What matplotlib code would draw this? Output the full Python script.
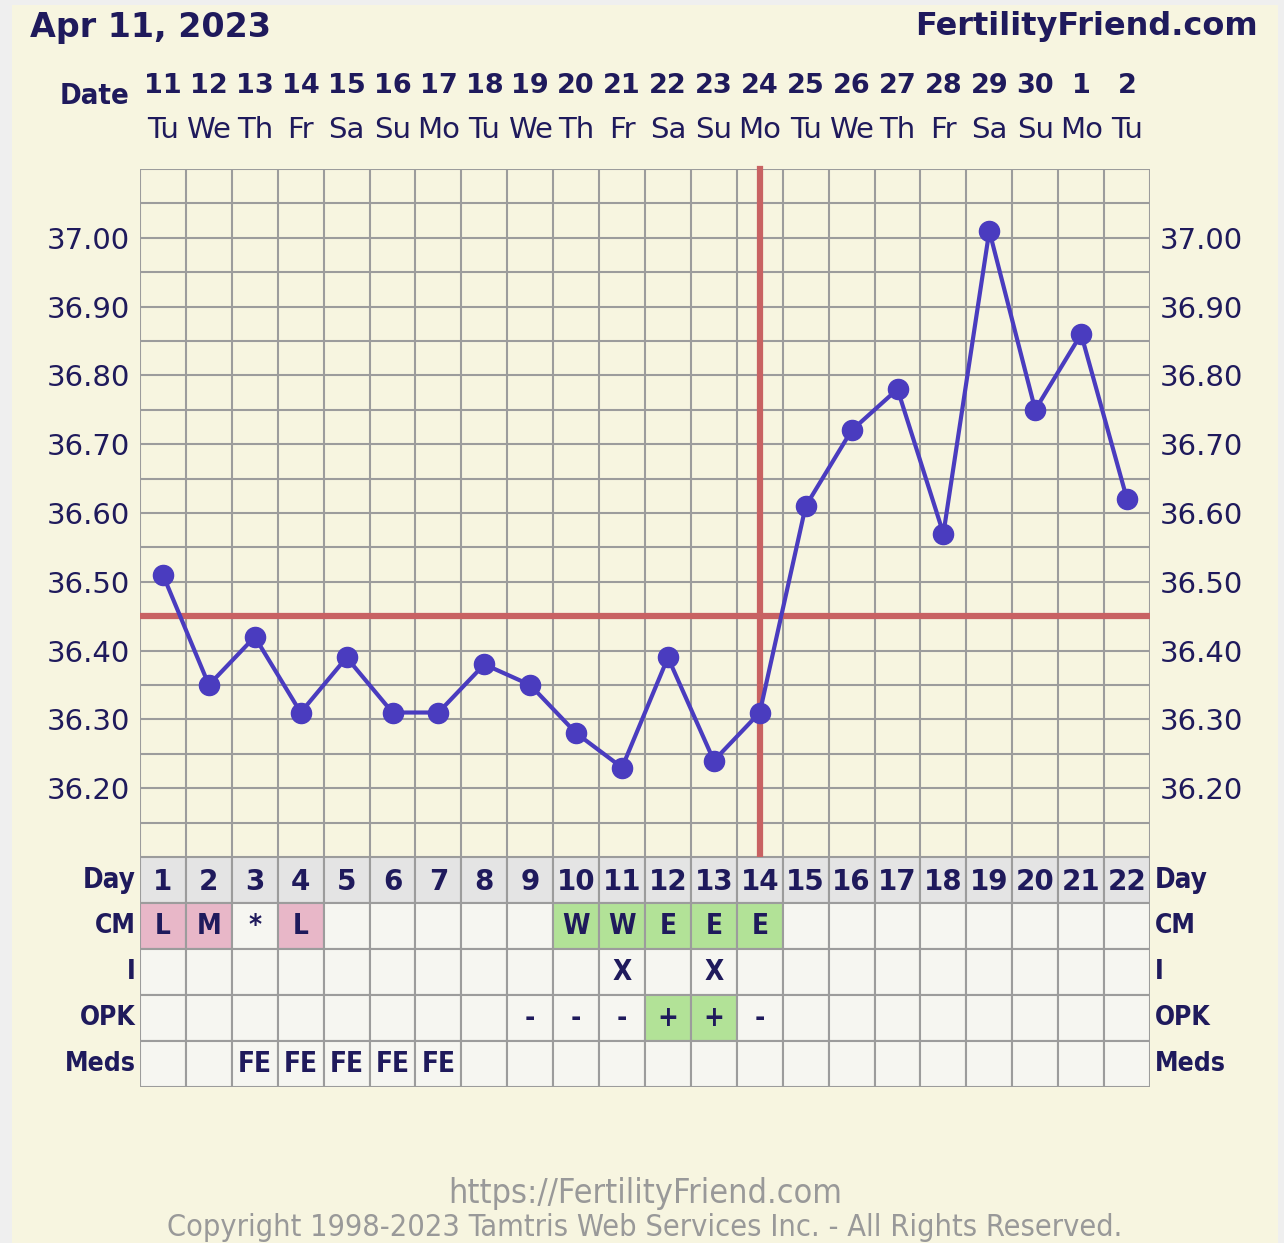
import matplotlib.pyplot as plt
import matplotlib.transforms as mtransforms
from matplotlib.patches import Rectangle

# Data
days = list(range(1, 23))
dates = ["11", "12", "13", "14", "15", "16", "17", "18", "19", "20", "21",
         "22", "23", "24", "25", "26", "27", "28", "29", "30", "1", "2"]
weekdays = ["Tu", "We", "Th", "Fr", "Sa", "Su", "Mo", "Tu", "We", "Th", "Fr",
            "Sa", "Su", "Mo", "Tu", "We", "Th", "Fr", "Sa", "Su", "Mo", "Tu"]
temps = [36.51, 36.35, 36.42, 36.31, 36.39, 36.31, 36.31, 36.38, 36.35, 36.28, 36.23,
         36.39, 36.24, 36.31, 36.61, 36.72, 36.78, 36.57, 37.01, 36.75, 36.86, 36.62]
coverline = 36.45
ovulation_day = 14

cm = {1: "L", 2: "M", 3: "*", 4: "L", 10: "W", 11: "W", 12: "E", 13: "E", 14: "E"}
cm_colors = {1: "#e8b7c8", 2: "#e8b7c8", 4: "#e8b7c8",
             10: "#b2e297", 11: "#b2e297", 12: "#b2e297", 13: "#b2e297", 14: "#b2e297"}
intercourse = {11: "X", 13: "X"}
opk = {9: "-", 10: "-", 11: "-", 12: "+", 13: "+", 14: "-"}
opk_colors = {12: "#b2e297", 13: "#b2e297"}
meds = {3: "FE", 4: "FE", 5: "FE", 6: "FE", 7: "FE"}
row_labels = ["Day", "CM", "I", "OPK", "Meds"]

# Colours
cream = "#f7f5e0"
navy = "#1f1a5c"
gridc = "#9c9c9c"
linec = "#4a3cbf"
redc = "#c86262"

W, H = 1284, 1243
fig = plt.figure(figsize=(W / 100, H / 100), dpi=100)
fig.patch.set_facecolor("#efefef")
fig.patches.append(Rectangle((12 / W, 0), 1266 / W, 1 - 5 / H, transform=fig.transFigure,
                             facecolor=cream, edgecolor="none", zorder=-5))

bold_cond = dict(family="DejaVu Sans", weight="bold", stretch="condensed")

# Temperature chart
ax = fig.add_axes([140 / W, 1 - 857 / H, 1010 / W, 688 / H])
ax.set_facecolor(cream)
ax.set_xlim(0.5, 22.5)
ax.set_ylim(36.10, 37.10)
ax.set_xticks([d + 0.5 for d in range(0, 23)])
ax.set_xticklabels([])
ax.set_yticks([36.10 + 0.05 * i for i in range(21)], minor=True)
ax.set_yticks([36.20 + 0.1 * i for i in range(9)])
ax.set_yticklabels(["%.2f" % (36.20 + 0.1 * i) for i in range(9)])
ax.tick_params(axis="both", which="both", length=0)
ax.tick_params(axis="y", labelsize=21, labelcolor=navy, pad=7, labelright=True)
ax.grid(True, which="both", color=gridc, linewidth=1.5)
ax.set_axisbelow(True)
for s in ax.spines.values():
    s.set_visible(False)

ax.axhline(coverline, color=redc, linewidth=4.5, zorder=3)
ax.plot([ovulation_day, ovulation_day], [36.10, 37.10], color=redc, linewidth=4.5,
        zorder=3, clip_on=False)
ax.plot(days, temps, color=linec, linewidth=3, marker="o", markersize=14.5, zorder=4)

# Date header
trans = mtransforms.blended_transform_factory(ax.transData, ax.transAxes)
for d, num, wd in zip(days, dates, weekdays):
    ax.text(d, (857 - 86) / 688, num, transform=trans, ha="center", va="center",
            fontsize=19.5, fontweight="bold", color=navy)
    ax.text(d, (857 - 130) / 688, wd, transform=trans, ha="center", va="center",
            fontsize=21, color=navy)
fig.text(95 / W, 1 - 96 / H, "Date", ha="center", va="center", fontsize=21,
         color=navy, **bold_cond)

fig.text(30 / W, 1 - 27 / H, "Apr 11, 2023", ha="left", va="center", fontsize=24,
         fontweight="bold", color=navy)
fig.text(1258 / W, 1 - 27 / H, "FertilityFriend.com", ha="right", va="center", fontsize=23,
         fontweight="bold", color=navy)

# Table
tb = fig.add_axes([140 / W, 1 - 1087 / H, 1010 / W, 230 / H])
tb.set_xlim(0.5, 22.5)
tb.set_ylim(5, 0)
tb.axis("off")
for r in range(5):
    for d in days:
        fc = "#e4e4e4" if r == 0 else "#f6f6f1"
        if r == 1 and d in cm_colors:
            fc = cm_colors[d]
        if r == 3 and d in opk_colors:
            fc = opk_colors[d]
        tb.add_patch(Rectangle((d - 0.5, r), 1, 1, facecolor=fc, edgecolor=gridc,
                               linewidth=1.5))

for d in days:
    tb.text(d, 0.55, str(d), ha="center", va="center", fontsize=20,
            fontweight="bold", color=navy)
for r, row in [(1, cm), (2, intercourse), (3, opk), (4, meds)]:
    for d, v in row.items():
        tb.text(d, r + 0.5, v, ha="center", va="center", fontsize=20,
                color=navy, **bold_cond)

for r, lab in enumerate(row_labels):
    tb.text(0.4, r + 0.5, lab, ha="right", va="center", fontsize=20 if r == 0 else 19,
            color=navy, **bold_cond)
    tb.text(22.6, r + 0.5, lab, ha="left", va="center", fontsize=20 if r == 0 else 19,
            color=navy, **bold_cond)

# Footer
fig.text(645 / W, 1 - 1193 / H, "https://FertilityFriend.com", ha="center", va="center",
         fontsize=24.5, color="#999999", stretch="condensed")
fig.text(645 / W, 1 - 1227 / H,
         "Copyright 1998-2023 Tamtris Web Services Inc. - All Rights Reserved.",
         ha="center", va="center", fontsize=22, color="#999999", stretch="condensed")

fig.savefig("out.png", dpi=100, facecolor=fig.get_facecolor())
